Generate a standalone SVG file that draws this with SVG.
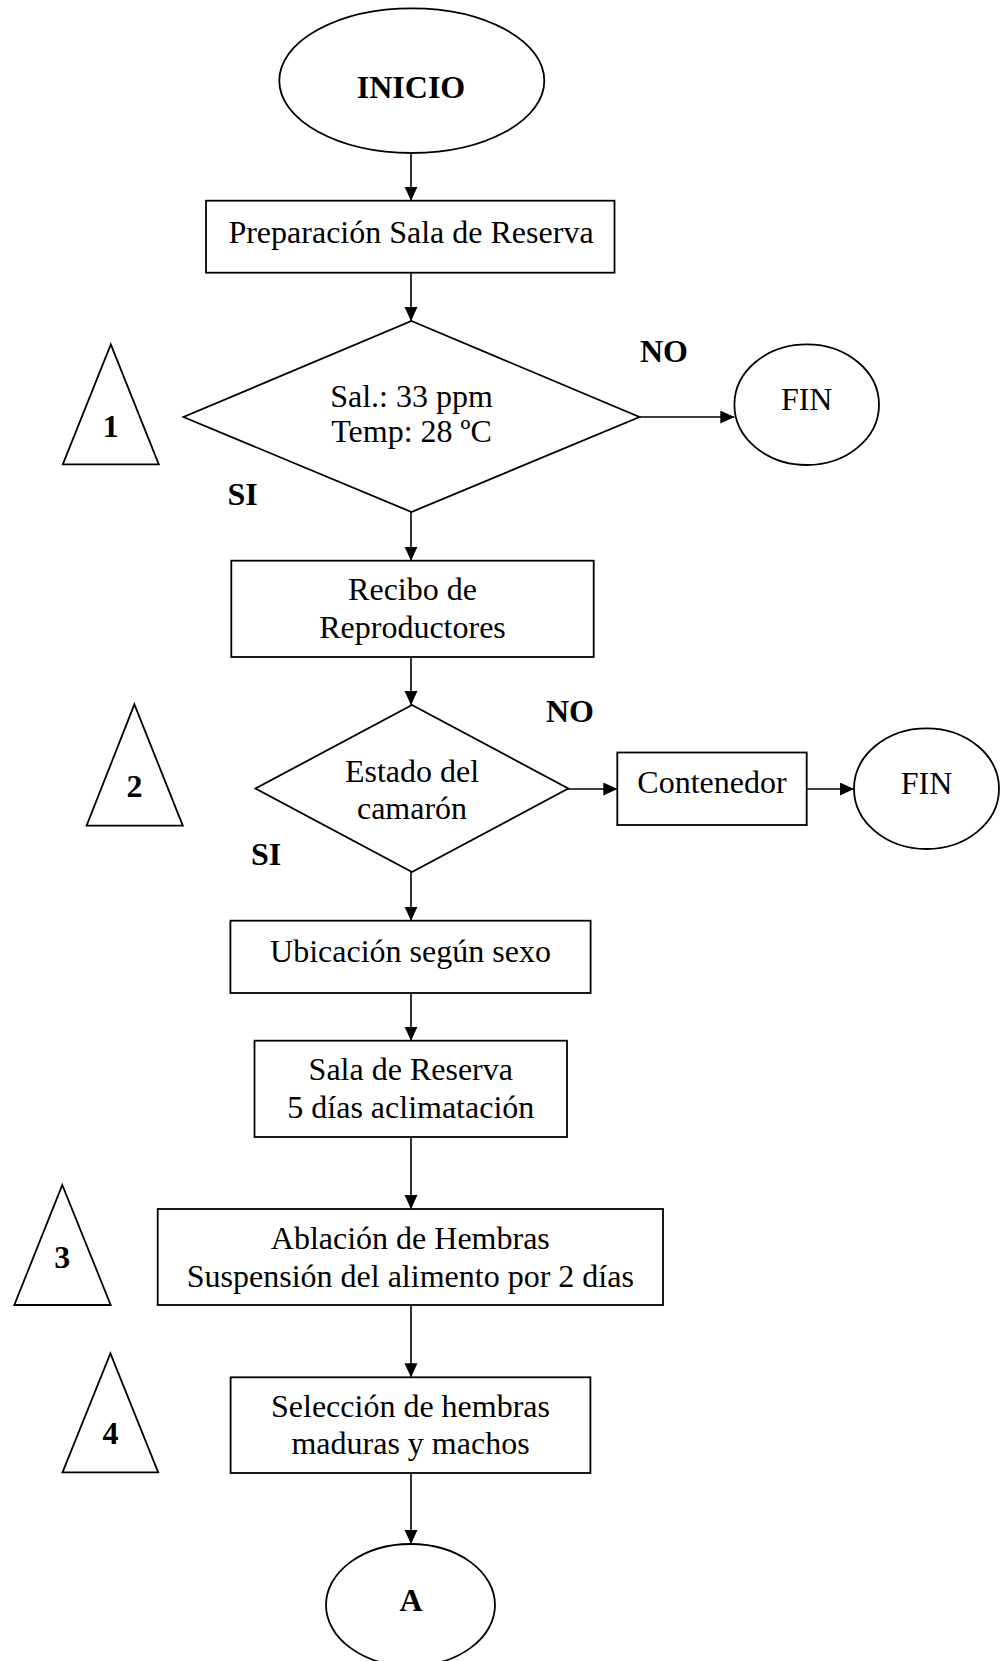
<svg xmlns="http://www.w3.org/2000/svg" width="1004" height="1661" viewBox="0 0 1004 1661">
  <style>
    .shape { fill: #ffffff; stroke: #000000; stroke-width: 1.8; }
    .edge { fill: none; stroke: #000000; stroke-width: 1.6; marker-end: url(#arrow); }
    text { font-family: "Liberation Serif", "Times New Roman", serif; font-size: 32px; fill: #000000; text-anchor: middle; }
    .b { font-weight: bold; }
    .lbl { text-anchor: start; font-weight: bold; }
  </style>
  <defs>
    <marker id="arrow" markerUnits="userSpaceOnUse" markerWidth="14" markerHeight="14" refX="14" refY="6.5" orient="auto">
      <path d="M0,0 L14,6.5 L0,13 Z" fill="#000000"/>
    </marker>
  </defs>
  <rect width="1004" height="1661" fill="#ffffff"/>

  <!-- connectors -->
  <g id="connectors">
    <line class="edge" x1="411" y1="153" x2="411" y2="200.7"/>
    <line class="edge" x1="411" y1="272.7" x2="411" y2="321"/>
    <line class="edge" x1="639.5" y1="417" x2="734.3" y2="417"/>
    <line class="edge" x1="411" y1="512" x2="411" y2="560.7"/>
    <line class="edge" x1="411" y1="657" x2="411" y2="705"/>
    <line class="edge" x1="568" y1="789" x2="617.3" y2="789"/>
    <line class="edge" x1="806.7" y1="789" x2="854" y2="789"/>
    <line class="edge" x1="411" y1="872" x2="411" y2="920.7"/>
    <line class="edge" x1="411" y1="993" x2="411" y2="1040.7"/>
    <line class="edge" x1="411" y1="1137" x2="411" y2="1209"/>
    <line class="edge" x1="411" y1="1305" x2="411" y2="1377.3"/>
    <line class="edge" x1="411" y1="1473" x2="411" y2="1544"/>
  </g>

  <!-- branch labels -->
  <g id="labels">
    <text class="lbl" x="640" y="362">NO</text>
    <text class="lbl" x="227.5" y="505">SI</text>
    <text class="lbl" x="546" y="721.7">NO</text>
    <text class="lbl" x="251" y="865">SI</text>
  </g>

  <g id="inicio">
    <ellipse class="shape" cx="411.8" cy="80.7" rx="132.5" ry="72.3"/>
    <text class="b" x="411" y="98">INICIO</text>
  </g>

  <g id="preparacion">
    <rect class="shape" x="206" y="200.7" width="408.5" height="72"/>
    <text x="411" y="243">Preparación Sala de Reserva</text>
  </g>

  <g id="check-agua">
    <polygon class="shape" points="411.5,321 639.5,417 411.5,512 183.5,417"/>
    <text x="411.5" y="407">Sal.: 33 ppm</text>
    <text x="411.5" y="442">Temp: 28 ºC</text>
  </g>

  <g id="marca-1">
    <polygon class="shape" points="110.8,344.3 158.8,464.3 62.8,464.3"/>
    <text class="b" x="110.8" y="437">1</text>
  </g>

  <g id="fin-1">
    <ellipse class="shape" cx="806.7" cy="404.7" rx="72.3" ry="60.3"/>
    <text x="806.7" y="410">FIN</text>
  </g>

  <g id="recibo">
    <rect class="shape" x="231.3" y="560.7" width="362.4" height="96.3"/>
    <text x="412.5" y="600">Recibo de</text>
    <text x="412.5" y="638">Reproductores</text>
  </g>

  <g id="estado-camaron">
    <polygon class="shape" points="412,705 568.3,788.5 412,872 255.5,788.5"/>
    <text x="412" y="781.5">Estado del</text>
    <text x="412" y="819">camarón</text>
  </g>

  <g id="marca-2">
    <polygon class="shape" points="134.4,704.3 182.8,825.7 86.6,825.7"/>
    <text class="b" x="134.4" y="797">2</text>
  </g>

  <g id="contenedor">
    <rect class="shape" x="617.3" y="752.5" width="189.4" height="72.5"/>
    <text x="712" y="793.3">Contenedor</text>
  </g>

  <g id="fin-2">
    <ellipse class="shape" cx="926.5" cy="788.7" rx="72.5" ry="60.3"/>
    <text x="926.5" y="794">FIN</text>
  </g>

  <g id="ubicacion">
    <rect class="shape" x="230.4" y="920.7" width="360.2" height="72.3"/>
    <text x="410.5" y="961.7">Ubicación según sexo</text>
  </g>

  <g id="sala-reserva">
    <rect class="shape" x="254.5" y="1040.7" width="312.5" height="96.3"/>
    <text x="410.8" y="1080">Sala de Reserva</text>
    <text x="410.8" y="1118">5 días aclimatación</text>
  </g>

  <g id="ablacion">
    <rect class="shape" x="157.7" y="1209" width="505.3" height="96"/>
    <text x="410.3" y="1249">Ablación de Hembras</text>
    <text x="410.3" y="1286.5">Suspensión del alimento por 2 días</text>
  </g>

  <g id="marca-3">
    <polygon class="shape" points="62.3,1185 110.7,1305 14.3,1305"/>
    <text class="b" x="62.3" y="1267.5">3</text>
  </g>

  <g id="seleccion">
    <rect class="shape" x="230.6" y="1377.3" width="359.8" height="95.7"/>
    <text x="410.5" y="1417">Selección de hembras</text>
    <text x="410.5" y="1454">maduras y machos</text>
  </g>

  <g id="marca-4">
    <polygon class="shape" points="110.4,1353.3 158.2,1472.3 62.5,1472.3"/>
    <text class="b" x="110.4" y="1443.5">4</text>
  </g>

  <g id="conector-a">
    <ellipse class="shape" cx="410.5" cy="1605" rx="84.5" ry="61"/>
    <text class="b" x="411" y="1610.7">A</text>
  </g>
</svg>
